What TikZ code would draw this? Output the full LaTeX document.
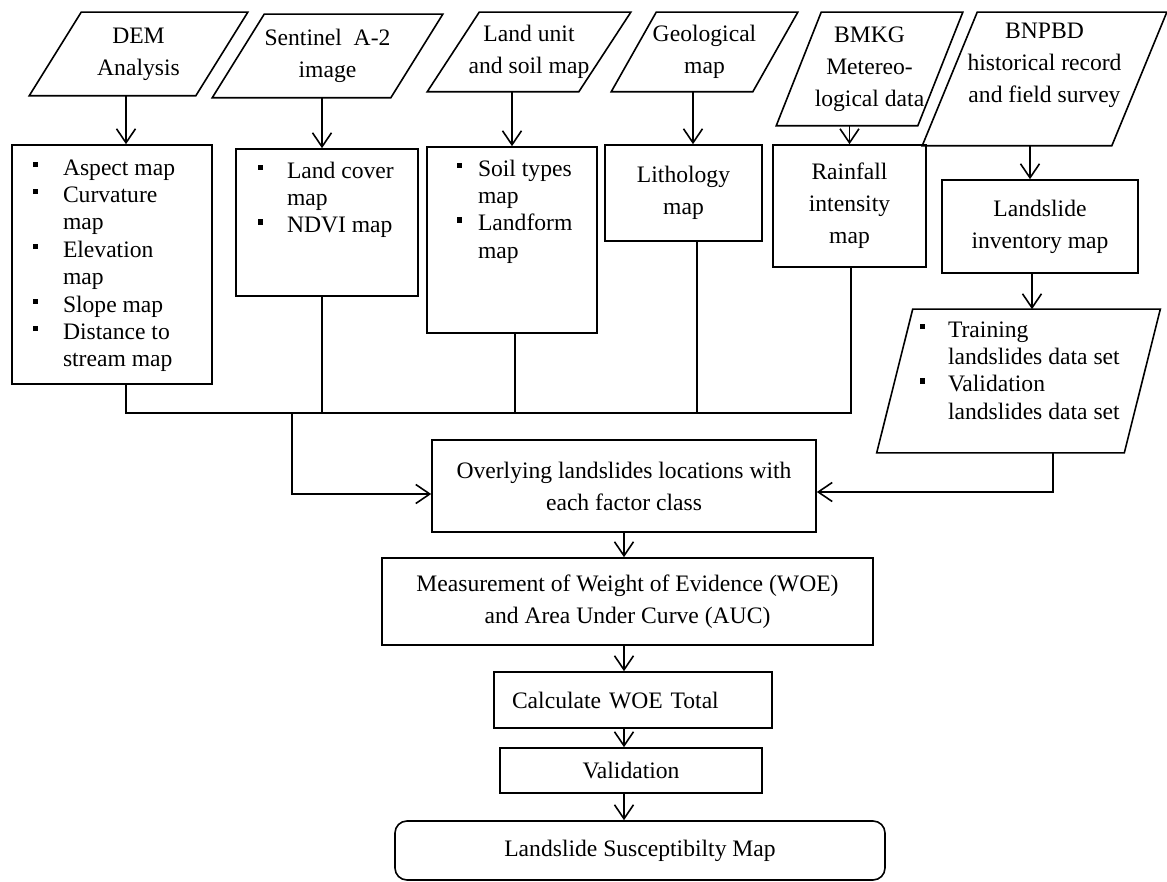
\documentclass[tikz,border=0pt]{standalone}
\usepackage{fontspec}
\setmainfont{Liberation Serif}
\usepackage{tikz}
\usetikzlibrary{arrows.meta, positioning, calc}

\newcommand{\sqbullet}{\rule[4.2pt]{2.6pt}{2.6pt}}

\begin{document}
\begin{tikzpicture}[
    x=0.5pt, y=-0.5pt, line width=0.8pt,
    inbox/.style={rectangle, inner sep=0pt, align=center, font=\fontsize{11.8}{16}\selectfont},
    listbox/.style={rectangle, draw, inner sep=0pt, font=\fontsize{11.8}{13.7}\selectfont},
    stepbox/.style={rectangle, draw, inner sep=0pt, align=center, font=\fontsize{11.8}{16}\selectfont},
    arrow/.style={-{Straight Barb[length=7pt, width=9.5pt]}}
]
\useasboundingbox (0,0) rectangle (1167,882);

% data sources
\node[inbox, minimum width=82.5pt, minimum height=41pt] (dem) at (138.5,54) {DEM\\Analysis};
\node[inbox, minimum width=88.5pt, minimum height=41pt] (sen) at (327.5,56) {Sentinel\ \ A-2\\image};
\node[inbox, minimum width=75pt, minimum height=39pt] (land) at (529,52) {Land unit\\and soil map};
\node[inbox, minimum width=70pt, minimum height=39pt] (geo) at (704.5,52) {Geological\\map};
\node[inbox, minimum width=70pt, minimum height=56pt] (bmkg) at (869.5,69) {BMKG\\Metereo-\\logical data};
\node[inbox, minimum width=94pt, minimum height=66pt] (bnpbd) at (1044.5,79) {BNPBD\\historical record\\and field survey\\ \mbox{}};

% factor maps
\node[listbox, minimum width=100pt, minimum height=119.5pt] (dlist) at (112,264.5) {\parbox[c][119.5pt][t]{100pt}{\vspace{5.5pt}\hspace*{10.5pt}\begin{tabular}[t]{@{}p{15pt}@{}p{70pt}@{}}
\sqbullet & Aspect map\\
\sqbullet & Curvature\newline map\\
\sqbullet & Elevation\newline map\\
\sqbullet & Slope map\\
\sqbullet & Distance to\newline stream map
\end{tabular}}};
\node[listbox, minimum width=91pt, minimum height=73.5pt] (slist) at (327,222.5) {\parbox[c][73.5pt][t]{91pt}{\vspace{5pt}\hspace*{11pt}\begin{tabular}[t]{@{}p{14.5pt}@{}p{60pt}@{}}
\sqbullet & Land cover\newline map\\
\sqbullet & NDVI map
\end{tabular}}};
\node[listbox, minimum width=85pt, minimum height=93pt] (llist) at (512,240) {\parbox[c][93pt][t]{85pt}{\vspace{5pt}\hspace*{15pt}\begin{tabular}[t]{@{}p{10.5pt}@{}p{55pt}@{}}
\sqbullet & Soil types\newline map\\
\sqbullet & Landform\newline map
\end{tabular}}};
\node[stepbox, minimum width=78.5pt, minimum height=48pt] (lith) at (683.5,193) {Lithology\\map};
\node[stepbox, minimum width=76.5pt, minimum height=61pt] (rain) at (849.5,206) {Rainfall\\intensity\\map};
\node[stepbox, minimum width=98pt, minimum height=46.5pt] (inv) at (1040,226.5) {Landslide\\inventory map};
\node[inbox, font=\fontsize{11.8}{13.7}\selectfont, minimum width=123pt, minimum height=71pt] (train) at (1018.5,381) {\parbox[c][71pt][t]{123pt}{\vspace{4pt}\hspace*{12.25pt}\begin{tabular}[t]{@{}p{14pt}@{}p{95pt}@{}}
\sqbullet & Training\newline landslides data set\\
\sqbullet & Validation\newline landslides data set
\end{tabular}}};

% processing steps
\node[stepbox, minimum width=192pt, minimum height=46pt] (over) at (624,486) {Overlying landslides locations with\\each factor class};
\node[stepbox, minimum width=245.5pt, minimum height=43.5pt] (woe) at (627.5,601.5) {Measurement of Weight of Evidence (WOE)\\and Area Under Curve (AUC)};
\node[stepbox, minimum width=139pt, minimum height=28pt, text width=121pt, align=left] (calc) at (633,700) {Calculate WOE Total};
\node[stepbox, minimum width=131pt, minimum height=22.5pt] (valid) at (631,770.5) {Validation};
\node[stepbox, rounded corners=6pt, minimum width=245pt, minimum height=29.5pt] (lsm) at (640,850.5) {Landslide Susceptibilty Map};

% slanted outlines of the data nodes
\foreach \n/\s in {dem/52, sen/52, land/52, geo/45, bmkg/45, bnpbd/55, train/36}
  \draw ($(\n.south west)+(-\s/2,0)$) -- ($(\n.south east)+(-\s/2,0)$)
    -- ($(\n.north east)+(\s/2,0)$) -- ($(\n.north west)+(\s/2,0)$) -- cycle;

% sources to maps
\draw[arrow] ([xshift=-6.25pt]dem.south) -- ([xshift=-6.25pt]dem.south |- dlist.north);
\draw[arrow] ([xshift=-2.75pt]sen.south) -- ([xshift=-2.75pt]sen.south |- slist.north);
\draw[arrow] (land.south -| llist.north) -- (llist.north);
\draw[arrow] ([xshift=-5.75pt]geo.south) -- ([xshift=-5.75pt]geo.south |- lith.north);
\draw[arrow] (bmkg.south -| rain.north) -- (rain.north);
\draw[arrow] ([xshift=-7.25pt]bnpbd.south) -- ([xshift=-7.25pt]bnpbd.south |- inv.north);
\draw[arrow] ([xshift=-4pt]inv.south) -- ([xshift=-4pt]inv.south |- train.north);

% collecting line
\coordinate (bus) at (292,413);
\draw ([xshift=7pt]dlist.south) |- (bus) -| ([xshift=0.75pt]rain.south);
\foreach \n/\dx in {slist/-2.5pt, llist/1.5pt, lith/6.75pt}
  \draw ([xshift=\dx]\n.south) -- ([xshift=\dx]\n.south |- bus);
\draw[arrow] (bus) |- ([yshift=-4pt]over.west);
\draw[arrow] ([xshift=17.25pt]train.south) |- ([yshift=-3pt]over.east);

% main chain
\foreach \a/\b in {over/woe, woe/calc, calc/valid, valid/lsm}
  \draw[arrow] (\a.south -| over.south) -- (\b.north -| over.south);

\end{tikzpicture}
\end{document}
